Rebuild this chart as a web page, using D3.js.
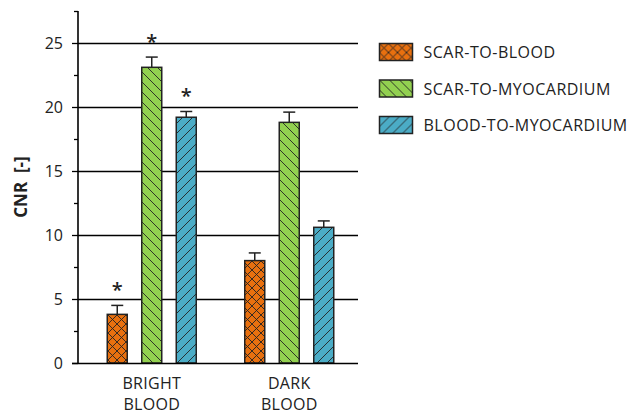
<!DOCTYPE html>
<html>
<head>
<meta charset="utf-8">
<script src="https://cdn.jsdelivr.net/npm/d3@7"></script>
<style>
  html, body { margin: 0; padding: 0; background: #fff; }
  svg { display: block; font-family: "Open Sans", "Noto Sans", sans-serif; }
</style>
</head>
<body>
<svg id="chart" width="630" height="414"></svg>
<script>
// Contrast-to-noise ratio by imaging technique
const groups = ["BRIGHT BLOOD", "DARK BLOOD"];
const seriesNames = ["SCAR-TO-BLOOD", "SCAR-TO-MYOCARDIUM", "BLOOD-TO-MYOCARDIUM"];
const scarToBlood = [3.8, 8.0];
const scarToMyocardium = [23.1, 18.8];
const bloodToMyocardium = [19.2, 10.6];
const scarToBloodErr = [0.7, 0.6];
const scarToMyocardiumErr = [0.8, 0.8];
const bloodToMyocardiumErr = [0.45, 0.5];
const significant = [[true, false], [true, false], [true, false]];
const yTicks = [0, 5, 10, 15, 20, 25];
const yMinorTicks = [2.5, 7.5, 12.5, 17.5, 22.5, 27.5];

const fills = ["#E8700F", "#92D050", "#4BACC6"];
const patternIds = ["pat-cross", "pat-back", "pat-fwd"];

const svg = d3.select("#chart");
const defs = svg.append("defs");

// Hatch patterns for the three series
function makePattern(id, color, size, paths) {
  const p = defs.append("pattern")
    .attr("id", id).attr("patternUnits", "userSpaceOnUse")
    .attr("width", size).attr("height", size);
  p.append("rect").attr("width", size).attr("height", size).attr("fill", color);
  paths.forEach(d => p.append("path").attr("d", d)
    .attr("stroke", "#222").attr("stroke-width", 0.9).attr("fill", "none"));
}
const c = 9;
makePattern("pat-cross", fills[0], c, [
  `M0,0 L${c},${c} M${-c},0 L0,${c} M0,${-c} L${c},0`,
  `M0,${c} L${c},0 M${-c/2},${c/2} L0,0 M${c},${c} L${c * 1.5},${c/2}`
]);
const h = 10;
makePattern("pat-back", fills[1], h, [
  `M0,0 L${h},${h} M${-h},0 L0,${h} M${h},${-h} L${2*h},0 M0,${-h} L${h},0 M${h},0 L${2*h},${h}`
]);
makePattern("pat-fwd", fills[2], h, [
  `M0,${h} L${h},0 M${-h},${h} L0,0 M${h},${h} L${2*h},0 M0,${2*h} L${h},${h}`
]);

const x0 = 78, x1 = 358;
const y = d3.scaleLinear().domain([0, 27.5]).range([363, 11]);
const xGroup = d3.scaleBand().domain(groups).range([83, 358]).padding(0);
const xSeries = d3.scalePoint().domain(seriesNames).range([-34.5, 34.5]);
const barW = 20;
const snap = v => Math.round(v) + 0.5;

// Gridlines at major ticks
svg.append("g").selectAll("line").data(yTicks.filter(t => t > 0)).join("line")
  .attr("x1", x0).attr("x2", x1)
  .attr("y1", d => snap(y(d))).attr("y2", d => snap(y(d)))
  .attr("stroke", "#000").attr("stroke-width", 1.3);

// Y axis with major and minor ticks
const axis = svg.append("g").attr("transform", `translate(${x0},0)`)
  .call(d3.axisLeft(y).tickValues(yTicks).tickSize(6).tickPadding(9).tickFormat(d3.format("d")));
axis.select(".domain").remove();
axis.selectAll(".tick").attr("transform", d => `translate(0,${snap(y(d))})`);
axis.selectAll(".tick line").attr("stroke", "#000").attr("stroke-width", 1.3);
axis.selectAll(".tick text").attr("font-size", 16).attr("fill", "#222")
  .attr("font-family", "'Open Sans', sans-serif");
const minor = svg.append("g").attr("transform", `translate(${x0},0)`)
  .call(d3.axisLeft(y).tickValues(yMinorTicks).tickSize(4).tickFormat(""));
minor.select(".domain").remove();
minor.selectAll(".tick").attr("transform", d => `translate(0,${snap(y(d))})`);
minor.selectAll(".tick line").attr("stroke", "#000").attr("stroke-width", 1.3);
svg.append("line").attr("x1", x0).attr("x2", x0).attr("y1", y(27.5)).attr("y2", y(0))
  .attr("stroke", "#000").attr("stroke-width", 1.6);

const seriesValues = [scarToBlood, scarToMyocardium, bloodToMyocardium];
const seriesErrs = [scarToBloodErr, scarToMyocardiumErr, bloodToMyocardiumErr];

const bars = [];
seriesNames.forEach((s, si) => {
  groups.forEach((grp, gi) => {
    bars.push({ s, si, g: grp, gi, v: seriesValues[si][gi], e: seriesErrs[si][gi], sig: significant[si][gi] });
  });
});

const cx = d => xGroup(d.g) + xGroup.bandwidth() / 2 + xSeries(d.s);

// Error bars (upper whisker only)
const eb = svg.append("g");
eb.selectAll("line.v").data(bars).join("line").attr("class", "v")
  .attr("x1", cx).attr("x2", cx)
  .attr("y1", d => y(d.v)).attr("y2", d => y(d.v + d.e))
  .attr("stroke", "#222").attr("stroke-width", 1.5);
eb.selectAll("line.cap").data(bars).join("line").attr("class", "cap")
  .attr("x1", d => cx(d) - 6).attr("x2", d => cx(d) + 6)
  .attr("y1", d => y(d.v + d.e)).attr("y2", d => y(d.v + d.e))
  .attr("stroke", "#222").attr("stroke-width", 1.5);

// Bars
svg.append("g").selectAll("rect").data(bars).join("rect")
  .attr("x", d => cx(d) - barW / 2).attr("width", barW)
  .attr("y", d => y(d.v)).attr("height", d => y(0) - y(d.v))
  .attr("fill", d => `url(#${patternIds[d.si]})`)
  .attr("stroke", "#222").attr("stroke-width", 1.5);

// Baseline
svg.append("line").attr("x1", 72).attr("x2", x1).attr("y1", snap(y(0))).attr("y2", snap(y(0)))
  .attr("stroke", "#000").attr("stroke-width", 1.6);

// Significance markers
svg.append("g").selectAll("text").data(bars.filter(d => d.sig)).join("text")
  .attr("x", cx).attr("y", d => y(d.v + d.e) - 8)
  .attr("text-anchor", "middle").attr("font-size", 20).attr("font-weight", 600).attr("fill", "#222")
  .text("*");

// Category labels on two lines
const cat = svg.append("g").selectAll("text").data(groups).join("text")
  .attr("text-anchor", "middle").attr("font-size", 16).attr("fill", "#222")
  .attr("letter-spacing", 0.3);
cat.append("tspan").attr("x", d => xGroup(d) + xGroup.bandwidth() / 2).attr("y", 389)
  .text(d => d.split(" ")[0]);
cat.append("tspan").attr("x", d => xGroup(d) + xGroup.bandwidth() / 2).attr("y", 410)
  .text(d => d.split(" ")[1]);

// Y axis title
svg.append("text").attr("transform", `translate(27,187) rotate(-90)`)
  .attr("text-anchor", "middle").attr("font-size", 17).attr("font-weight", "bold")
  .attr("fill", "#222").style("white-space", "pre").text("CNR  [-]");

// Legend
const leg = svg.append("g").selectAll("g").data(seriesNames).join("g")
  .attr("transform", (d, i) => `translate(379.5,${43.5 + i * 36.5})`);
leg.append("rect").attr("width", 33).attr("height", 17)
  .attr("fill", (d, i) => `url(#${patternIds[i]})`)
  .attr("stroke", "#222").attr("stroke-width", 1.5);
leg.append("text").attr("x", 44).attr("y", 14.5).attr("font-size", 16)
  .attr("letter-spacing", 0.5).attr("fill", "#222").text(d => d);
</script>
</body>
</html>
